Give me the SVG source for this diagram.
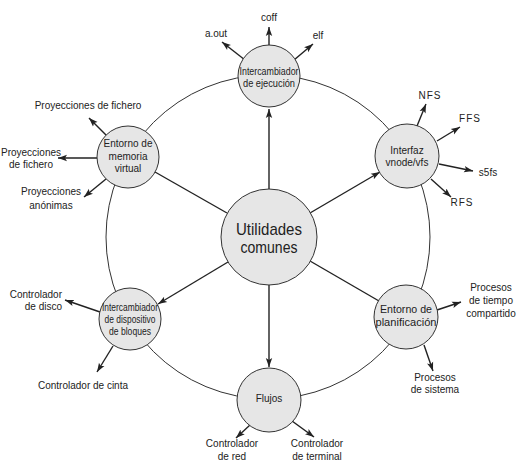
<svg xmlns="http://www.w3.org/2000/svg" width="520" height="468" viewBox="0 0 520 468">
<style>
text{font-family:"Liberation Sans",Arial,sans-serif;font-size:10px;fill:#222;}
.m{text-anchor:middle;}
.e{text-anchor:end;}
.node{fill:#e6e6e6;stroke:#333;stroke-width:1;}
.ring{fill:none;stroke:#333;stroke-width:1;}
.c{stroke:#222;stroke-width:1.4;fill:none;}
.a{stroke:#222;stroke-width:1.4;fill:none;marker-end:url(#ah);}
.big{font-size:17px;}
.sp{letter-spacing:1px;}
</style>
<defs>
<marker id="ah" markerUnits="userSpaceOnUse" markerWidth="10" markerHeight="8" refX="9" refY="4" orient="auto">
<path d="M0,0.8 L9,4 L0,7.2 L2,4 Z" fill="#222"/>
</marker>
</defs>
<circle class="ring" cx="268" cy="237" r="162"/>
<g id="connectors">
<line class="a" x1="269" y1="189" x2="269" y2="109"/>
<line class="c" x1="227" y1="213" x2="155" y2="172"/>
<line class="a" x1="310" y1="213" x2="380" y2="172"/>
<line class="c" x1="310" y1="261" x2="379" y2="301"/>
<line class="a" x1="269" y1="285" x2="269" y2="367"/>
<line class="a" x1="228" y1="262" x2="158" y2="304"/>
<line class="a" x1="269" y1="45" x2="269" y2="27"/>
<line class="a" x1="245" y1="60" x2="222" y2="42"/>
<line class="a" x1="294" y1="60" x2="313" y2="44"/>
<line class="a" x1="106" y1="135" x2="89" y2="118"/>
<line class="a" x1="97" y1="158" x2="58" y2="158"/>
<line class="a" x1="106" y1="179" x2="84" y2="197"/>
<line class="a" x1="417" y1="126" x2="426" y2="104"/>
<line class="a" x1="437" y1="141" x2="460" y2="127"/>
<line class="a" x1="439" y1="164" x2="473" y2="171"/>
<line class="a" x1="431" y1="179" x2="451" y2="197"/>
<line class="a" x1="437" y1="310" x2="461" y2="302"/>
<line class="a" x1="424" y1="345" x2="433" y2="371"/>
<line class="a" x1="250" y1="425" x2="236" y2="438"/>
<line class="a" x1="292" y1="421" x2="314" y2="437"/>
<line class="a" x1="100" y1="312" x2="65" y2="300"/>
<line class="a" x1="113" y1="346" x2="97" y2="372"/>
</g>
<g id="utilidades">
<circle class="node" cx="269" cy="237" r="48"/>
<text class="m big" x="269" y="235" textLength="66" lengthAdjust="spacingAndGlyphs">Utilidades</text>
<text class="m big" x="269" y="253" textLength="57" lengthAdjust="spacingAndGlyphs">comunes</text>
</g>
<g id="ejecucion">
<circle class="node" cx="269" cy="76" r="31"/>
<text class="m" x="269" y="74.5" textLength="59" lengthAdjust="spacingAndGlyphs">Intercambiador</text>
<text class="m" x="269" y="87" textLength="52" lengthAdjust="spacingAndGlyphs">de ejecución</text>
</g>
<g id="memoria">
<circle class="node" cx="128" cy="157" r="31"/>
<text class="m" x="128" y="147">Entorno de</text>
<text class="m" x="128" y="159.5">memoria</text>
<text class="m" x="128" y="172">virtual</text>
</g>
<g id="vnode">
<circle class="node" cx="407" cy="156" r="32"/>
<text class="m" x="407" y="154">Interfaz</text>
<text class="m" x="407" y="166">vnode/vfs</text>
</g>
<g id="planificacion">
<circle class="node" cx="406" cy="317" r="32"/>
<text class="m" x="406" y="312.5" textLength="52" lengthAdjust="spacingAndGlyphs">Entorno de</text>
<text class="m" x="406" y="325.5" textLength="61" lengthAdjust="spacingAndGlyphs">planificación</text>
</g>
<g id="flujos">
<circle class="node" cx="269" cy="400" r="32"/>
<text class="m" x="269" y="402">Flujos</text>
</g>
<g id="bloques">
<circle class="node" cx="130" cy="319" r="31"/>
<text class="m" x="130" y="310.5" textLength="56" lengthAdjust="spacingAndGlyphs">Intercambiador</text>
<text class="m" x="130" y="322.5" textLength="51" lengthAdjust="spacingAndGlyphs">de dispositivo</text>
<text class="m" x="130" y="334.5" textLength="42" lengthAdjust="spacingAndGlyphs">de bloques</text>
</g>
<g id="labels">
<text class="m" x="269" y="21">coff</text>
<text class="m" x="216" y="37">a.out</text>
<text class="m" x="318" y="39">elf</text>
<text class="m" x="88" y="109">Proyecciones de fichero</text>
<text class="m" x="31" y="156">Proyecciones</text>
<text class="m" x="31" y="168">de fichero</text>
<text class="m" x="51" y="195">Proyecciones</text>
<text class="m" x="51" y="209">anónimas</text>
<text class="m sp" x="430" y="99">NFS</text>
<text class="m sp" x="470" y="122">FFS</text>
<text class="m" x="488" y="176">s5fs</text>
<text class="m sp" x="462" y="206">RFS</text>
<text class="m" x="491" y="291">Procesos</text>
<text class="m" x="491" y="304">de tiempo</text>
<text class="m" x="491" y="317">compartido</text>
<text class="m" x="435" y="381">Procesos</text>
<text class="m" x="435" y="393">de sistema</text>
<text class="m" x="232" y="447">Controlador</text>
<text class="m" x="232" y="460">de red</text>
<text class="m" x="317" y="447">Controlador</text>
<text class="m" x="317" y="460">de terminal</text>
<text class="e" x="62" y="298">Controlador</text>
<text class="e" x="62" y="310">de disco</text>
<text class="m" x="83" y="389">Controlador de cinta</text>
</g>
</svg>
